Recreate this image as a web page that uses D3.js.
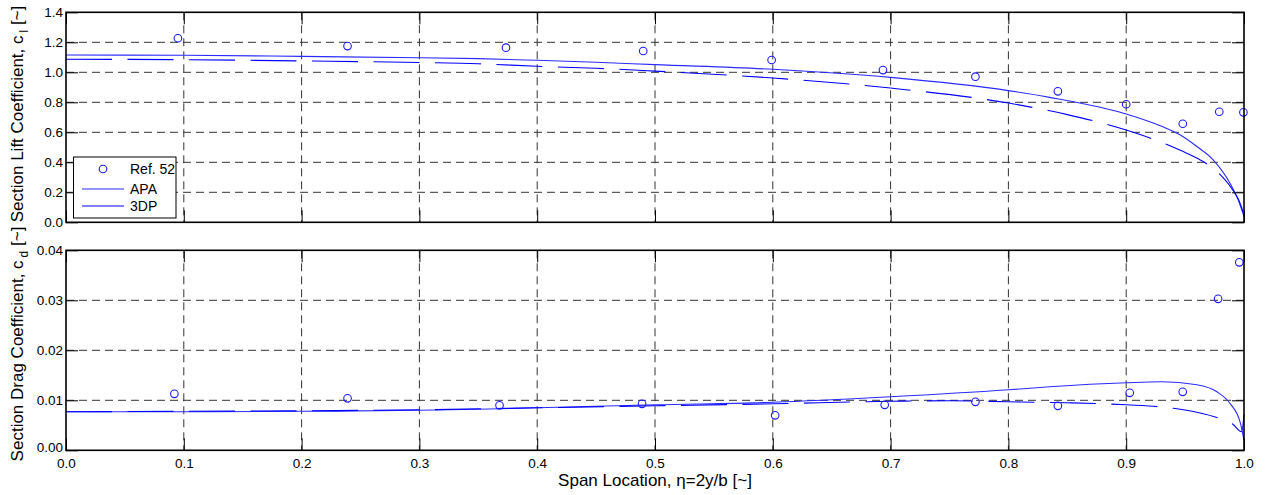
<!DOCTYPE html>
<html lang="en">
<head>
<meta charset="utf-8" />
<title>Section Lift and Drag</title>
<script src="https://d3js.org/d3.v7.min.js"></script>
<style>
	body { margin: 0; background: #fff; }
	text { font-family: "Liberation Sans", Arial, sans-serif; fill: #000; }
</style>
</head>
<body>
<div id="chart"></div>
<script>
	// Ref. 52 measured stations
	var refClEta = [0.095, 0.239, 0.3735, 0.490, 0.599, 0.6935, 0.772, 0.842, 0.900, 0.948, 0.979, 0.9995];
	var refCl = [1.227, 1.175, 1.164, 1.142, 1.082, 1.015, 0.971, 0.873, 0.787, 0.657, 0.737, 0.733];
	var refCdEta = [0.092, 0.239, 0.368, 0.489, 0.602, 0.695, 0.772, 0.842, 0.903, 0.948, 0.978, 0.996];
	var refCd = [0.0113, 0.0104, 0.0090, 0.0093, 0.0070, 0.0091, 0.0097, 0.0089, 0.0115, 0.0117, 0.0303, 0.0376];

	// APA lift
	var apaClEta = [0, 0.1, 0.2, 0.3, 0.35, 0.4, 0.45, 0.5, 0.6, 0.7, 0.8, 0.835, 0.9, 0.93, 0.946, 0.96, 0.974, 0.988, 0.995, 1.0];
	var apaCl = [1.115, 1.114, 1.106, 1.097, 1.091, 1.080, 1.067, 1.051, 1.020, 0.966, 0.878, 0.833, 0.722, 0.640, 0.582, 0.505, 0.415, 0.262, 0.150, 0.040];
	// 3DP lift
	var dpClEta = [0, 0.1, 0.2, 0.3, 0.35, 0.4, 0.45, 0.5, 0.6, 0.7, 0.8, 0.85, 0.9, 0.946, 0.968, 0.979, 0.99, 0.998, 1.0];
	var dpCl = [1.087, 1.084, 1.076, 1.065, 1.057, 1.040, 1.027, 1.008, 0.962, 0.895, 0.795, 0.718, 0.615, 0.480, 0.392, 0.325, 0.220, 0.100, 0.040];

	// APA drag
	var apaCdEta = [0, 0.1, 0.2, 0.3, 0.35, 0.4, 0.5, 0.6, 0.7, 0.8, 0.835, 0.9, 0.93, 0.96, 0.977, 0.988, 0.997, 1.0];
	var apaCd = [0.0077, 0.0077, 0.0078, 0.0080, 0.0082, 0.0085, 0.0091, 0.0096, 0.0107, 0.0121, 0.0127, 0.0135, 0.0137, 0.0131, 0.0117, 0.0094, 0.0054, 0.0020];
	// 3DP drag
	var dpCdEta = [0, 0.1, 0.2, 0.3, 0.4, 0.5, 0.6, 0.7, 0.75, 0.8, 0.85, 0.9, 0.94, 0.96, 0.98, 0.99, 0.998, 1.0];
	var dpCd = [0.0077, 0.0078, 0.0079, 0.0081, 0.0085, 0.0089, 0.0093, 0.0098, 0.0099, 0.0097, 0.0095, 0.0091, 0.0084, 0.0076, 0.0063, 0.0053, 0.0037, 0.0072];

	var xTicks = [0, 0.1, 0.2, 0.3, 0.4, 0.5, 0.6, 0.7, 0.8, 0.9, 1.0];
	var clTicks = [0, 0.2, 0.4, 0.6, 0.8, 1.0, 1.2, 1.4];
	var cdTicks = [0, 0.01, 0.02, 0.03, 0.04];

	var W = 1267, H = 495;
	var left = 66, plotW = 1178;
	var tickLen = 12;

	var svg = d3.select("#chart")
		.append("svg")
		.attr("width", W)
		.attr("height", H);

	var x = d3.scaleLinear().domain([0, 1]).range([left, left + plotW]);

	function zip(a, b) {
		return a.map(function(v, i) { return [v, b[i]]; });
	}

	function panel(top, h, yDomain, yTicks, yFmt, showX, series, ref) {
		var y = d3.scaleLinear().domain(yDomain).range([top + h, top]);
		var g = svg.append("g");

		// grid
		g.append("g").selectAll("line")
			.data(yTicks.slice(1, -1))
			.enter().append("line")
			.attr("x1", left).attr("x2", left + plotW)
			.attr("y1", function(d) { return y(d); })
			.attr("y2", function(d) { return y(d); })
			.attr("stroke", "#333").attr("stroke-width", 1)
			.attr("stroke-dasharray", "8,5");
		g.append("g").selectAll("line")
			.data(xTicks.slice(1, -1))
			.enter().append("line")
			.attr("y1", top).attr("y2", top + h)
			.attr("x1", function(d) { return x(d); })
			.attr("x2", function(d) { return x(d); })
			.attr("stroke", "#333").attr("stroke-width", 1)
			.attr("stroke-dasharray", "8,5");

		// lines
		var line = d3.line()
			.x(function(d) { return x(d[0]); })
			.y(function(d) { return y(d[1]); })
			.curve(d3.curveMonotoneX);
		series.forEach(function(s) {
			g.append("path")
				.datum(s.data)
				.attr("d", line)
				.attr("fill", "none")
				.attr("stroke", s.color)
				.attr("stroke-width", 1.1)
				.attr("stroke-dasharray", s.dash);
		});

		// markers
		g.append("g").selectAll("circle")
			.data(ref)
			.enter().append("circle")
			.attr("cx", function(d) { return x(d[0]); })
			.attr("cy", function(d) { return y(d[1]); })
			.attr("r", 3.8)
			.attr("fill", "none")
			.attr("stroke", "#1a1aff")
			.attr("stroke-width", 1.1);

		// axes with inward ticks
		var axB = g.append("g")
			.attr("transform", "translate(0," + (top + h) + ")")
			.call(d3.axisBottom(x).tickValues(xTicks).tickSize(-tickLen).tickSizeOuter(0)
				.tickFormat(showX ? d3.format(".1f") : ""));
		var axT = g.append("g")
			.attr("transform", "translate(0," + top + ")")
			.call(d3.axisTop(x).tickValues(xTicks).tickSize(-tickLen).tickSizeOuter(0).tickFormat(""));
		var axL = g.append("g")
			.attr("transform", "translate(" + left + ",0)")
			.call(d3.axisLeft(y).tickValues(yTicks).tickSize(-tickLen).tickSizeOuter(0)
				.tickFormat(d3.format(yFmt)));
		var axR = g.append("g")
			.attr("transform", "translate(" + (left + plotW) + ",0)")
			.call(d3.axisRight(y).tickValues(yTicks).tickSize(-tickLen).tickSizeOuter(0).tickFormat(""));

		[axB, axT, axL, axR].forEach(function(a) {
			a.select(".domain").remove();
			a.selectAll(".tick line").attr("stroke", "#000").attr("stroke-width", 1);
			a.selectAll("text").style("font-size", "13.5px").attr("fill", "#000");
		});
		axL.selectAll("text").attr("x", -3)
			.attr("y", function(d) { return (showX && d === 0) ? -3 : 0; });
		axB.selectAll("text").attr("y", 8);

		// box
		g.append("rect")
			.attr("x", left).attr("y", top)
			.attr("width", plotW).attr("height", h)
			.attr("fill", "none")
			.attr("stroke", "#000")
			.attr("stroke-width", 1.6);

		return y;
	}

	panel(12.3, 210, [0, 1.4], clTicks, ".1f", false, [
		{ data: zip(apaClEta, apaCl), color: "#2b2bff", dash: null },
		{ data: zip(dpClEta, dpCl), color: "#0000ff", dash: "46,15.5" }
	], zip(refClEta, refCl));

	panel(250.3, 200, [0, 0.04], cdTicks, ".2f", true, [
		{ data: zip(apaCdEta, apaCd), color: "#2b2bff", dash: null },
		{ data: zip(dpCdEta, dpCd), color: "#0000ff", dash: "46,15.5" }
	], zip(refCdEta, refCd));

	// axis labels
	function yLabel(cy, main, sub) {
		var t = svg.append("text")
			.attr("transform", "translate(23," + cy + ") rotate(-90)")
			.attr("text-anchor", "middle")
			.style("font-size", "17px");
		t.append("tspan").text(main + ", c");
		t.append("tspan").attr("dx", 3).attr("dy", 5).style("font-size", "12px").text(sub);
		t.append("tspan").attr("dy", -5).text(" [~]");
	}
	yLabel(114, "Section Lift Coefficient", "l");
	yLabel(344, "Section Drag Coefficient", "d");

	svg.append("text")
		.attr("x", left + plotW / 2)
		.attr("y", 486)
		.attr("text-anchor", "middle")
		.style("font-size", "17px")
		.text("Span Location, \u03b7=2y/b [~]");

	// legend
	var lg = svg.append("g");
	lg.append("rect")
		.attr("x", 73.5).attr("y", 157)
		.attr("width", 102.5).attr("height", 61)
		.attr("fill", "#fff")
		.attr("stroke", "#000")
		.attr("stroke-width", 1);
	lg.append("circle")
		.attr("cx", 103).attr("cy", 169).attr("r", 3.8)
		.attr("fill", "none").attr("stroke", "#1a1aff").attr("stroke-width", 1.1);
	lg.append("line")
		.attr("x1", 82).attr("x2", 124).attr("y1", 189).attr("y2", 189)
		.attr("stroke", "#2b2bff").attr("stroke-width", 1.1);
	lg.append("line")
		.attr("x1", 82).attr("x2", 124).attr("y1", 206).attr("y2", 206)
		.attr("stroke", "#0000ff").attr("stroke-width", 1.1)
		.attr("stroke-dasharray", "46,15.5");
	var names = ["Ref. 52", "APA", "3DP"];
	lg.selectAll("text.lab")
		.data(names)
		.enter().append("text")
		.attr("class", "lab")
		.attr("x", 130)
		.attr("y", function(d, i) { return [169, 189, 206][i] + 5; })
		.style("font-size", "14px")
		.text(function(d) { return d; });
</script>
</body>
</html>
